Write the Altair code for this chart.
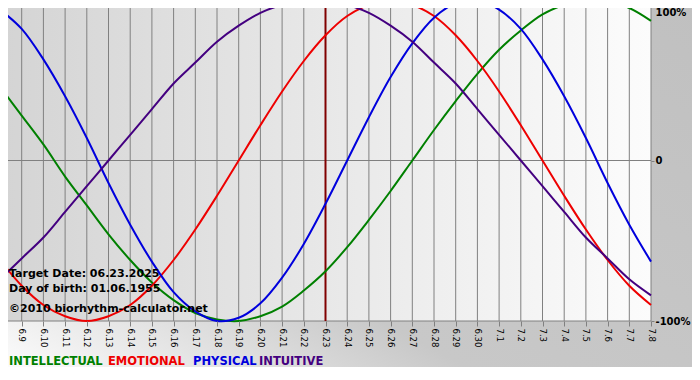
import altair as alt
import pandas as pd

# ---------------- data ----------------
dates = ["6.8", "6.9", "6.10", "6.11", "6.12", "6.13", "6.14", "6.15", "6.16", "6.17",
         "6.18", "6.19", "6.20", "6.21", "6.22", "6.23", "6.24", "6.25", "6.26", "6.27",
         "6.28", "6.29", "6.30", "7.1", "7.2", "7.3", "7.4", "7.5", "7.6", "7.7", "7.8"]

intellectual = [0.46, 0.28, 0.10, -0.10, -0.28, -0.46, -0.62, -0.76, -0.87, -0.95,
                -0.99, -1.00, -0.97, -0.91, -0.81, -0.69, -0.54, -0.37, -0.19, 0.00,
                0.19, 0.37, 0.54, 0.69, 0.81, 0.91, 0.97, 1.00, 0.99, 0.95, 0.87]

emotional = [-0.62, -0.78, -0.90, -0.97, -1.00, -0.97, -0.90, -0.78, -0.62, -0.43,
             -0.22, 0.00, 0.22, 0.43, 0.62, 0.78, 0.90, 0.97, 1.00, 0.97,
             0.90, 0.78, 0.62, 0.43, 0.22, 0.00, -0.22, -0.43, -0.62, -0.78, -0.90]

physical = [0.94, 0.82, 0.63, 0.40, 0.14, -0.14, -0.40, -0.63, -0.82, -0.94,
            -1.00, -0.98, -0.89, -0.73, -0.52, -0.27, 0.00, 0.27, 0.52, 0.73,
            0.89, 0.98, 1.00, 0.94, 0.82, 0.63, 0.40, 0.14, -0.14, -0.40, -0.63]

intuitive = [-0.74, -0.61, -0.48, -0.32, -0.16, 0.00, 0.16, 0.32, 0.48, 0.61,
             0.74, 0.84, 0.92, 0.97, 1.00, 1.00, 0.97, 0.92, 0.84, 0.74,
             0.61, 0.48, 0.32, 0.16, 0.00, -0.16, -0.32, -0.48, -0.61, -0.74, -0.84]

series_names = ["INTELLECTUAL", "EMOTIONAL", "PHYSICAL", "INTUITIVE"]
series_colors = ["#008000", "#ee0000", "#0000dd", "#440080"]
target_date = "6.23"
info_lines = ["Target Date: 06.23.2025", "Day of birth: 01.06.1955",
              "©2010 biorhythm-calculator.net"]
y_ticks = [-1, 0, 1]

# ---------------- build tables ----------------
W, H = 651, 321
FONT = "DejaVu Sans"

day_index = list(range(len(dates)))
series_values = [intellectual, emotional, physical, intuitive]
rows = []
for name, vals in zip(series_names, series_values):
    for i, d, v in zip(day_index, dates, vals):
        rows.append({"idx": i, "date": d, "value": v, "series": name})
df = pd.DataFrame(rows)
df_dates = pd.DataFrame({"idx": day_index, "date": dates})
df_h = pd.DataFrame({"value": y_ticks})
df_target = pd.DataFrame({"idx": [dates.index(target_date)]})
one = pd.DataFrame({"a": [0]})

label_array = "[" + ",".join("'" + d + "'" for d in dates) + "]"
xscale = alt.Scale(domain=[0, len(dates) - 1], nice=False, zero=False)
yscale = alt.Scale(domain=[-1, 1], nice=False, zero=False)

x_axis = alt.Axis(title=None, orient="bottom", values=day_index,
                  labelExpr=label_array + "[datum.value]",
                  labelAngle=90, labelFont=FONT, labelFontSize=8.5,
                  labelColor="#000000", labelPadding=2, domain=False,
                  ticks=True, tickColor="#808080", tickSize=5, grid=False,
                  labelOverlap=False, labelFlush=False, labelSeparation=0,
                  zindex=2)
y_axis = alt.Axis(title=None, orient="right", values=y_ticks,
                  labelExpr="datum.value == 1 ? '100%' : datum.value == 0 ? '0' : '-100%'",
                  labelFont=FONT, labelFontSize=10, labelFontWeight="bold",
                  labelColor="#000000", labelPadding=1, domain=False,
                  ticks=True, tickSize=3, tickColor="#808080", grid=False,
                  labelFlush=False, labelOverlap=False, zindex=2,
                  labelBaseline={"condition": {"test": "datum.value == 1", "value": "top"},
                                 "value": "middle"},
                  labelOffset={"condition": {"test": "datum.value == 1", "value": 7},
                               "value": 0})

# outer gradient background
outer = alt.Chart(one).mark_rect(
    color=alt.LinearGradient(
        gradient="linear", x1=0, y1=1, x2=1, y2=0,
        stops=[alt.GradientStop(offset=0, color="#ffffff"),
               alt.GradientStop(offset=0.35, color="#c8c8c8"),
               alt.GradientStop(offset=1, color="#c0c0c0")]
    )
).encode(x=alt.value(0), x2=alt.value(700), y=alt.value(0), y2=alt.value(380))

# plot area gradient
plotbg = alt.Chart(one).mark_rect(
    color=alt.LinearGradient(
        gradient="linear", x1=0, y1=0, x2=1, y2=0,
        stops=[alt.GradientStop(offset=0, color="#d4d4d4"),
               alt.GradientStop(offset=1, color="#fcfcfc")]
    )
).encode(x=alt.value(0), x2=alt.value(W), y=alt.value(0), y2=alt.value(H))

vgrid = alt.Chart(df_dates).mark_rule(color="#808080", strokeWidth=1).encode(
    x=alt.X("idx:Q", scale=xscale, axis=x_axis),
    y=alt.value(0), y2=alt.value(H),
)

hgrid = alt.Chart(df_h).mark_rule(color="#808080", strokeWidth=1).encode(
    y=alt.Y("value:Q", scale=yscale, axis=y_axis),
    x=alt.value(0), x2=alt.value(W),
)

target = alt.Chart(df_target).mark_rule(color="#800000", strokeWidth=2).encode(
    x=alt.X("idx:Q", scale=xscale, axis=x_axis),
    y=alt.value(0), y2=alt.value(H),
)

lines = alt.Chart(df).mark_line(strokeWidth=2, interpolate="catmull-rom").encode(
    x=alt.X("idx:Q", scale=xscale, axis=x_axis),
    y=alt.Y("value:Q", scale=yscale, axis=y_axis),
    color=alt.Color("series:N", scale=alt.Scale(domain=series_names, range=series_colors),
                    legend=None),
    detail="series:N",
)

info_df = pd.DataFrame({"text": info_lines, "ypos": [277, 292, 312]})
info = alt.Chart(info_df).mark_text(
    align="left", baseline="alphabetic", font=FONT, fontSize=11,
    fontWeight="bold", color="#000000"
).encode(x=alt.value(9), y=alt.Y("ypos:Q", scale=None), text="text:N")

legend_df = pd.DataFrame({"text": series_names, "xpos": [9, 108, 193, 259]})
legend = alt.Chart(legend_df).mark_text(
    align="left", baseline="alphabetic", font=FONT, fontSize=11.5, fontWeight="bold"
).encode(
    x=alt.X("xpos:Q", scale=None), y=alt.value(365), text="text:N",
    color=alt.Color("text:N", scale=alt.Scale(domain=series_names, range=series_colors),
                    legend=None),
)

chart = alt.layer(outer, plotbg, vgrid, hgrid, target, lines, info, legend).resolve_scale(
    color="independent"
).properties(
    width=W, height=H,
    autosize=alt.AutoSizeParams(type="none"),
    padding={"left": -8, "top": -8, "right": 41, "bottom": 46},
    background="#c0c0c0",
).configure_view(stroke=None).configure_axis(labelOverlap=False)

chart.save("out.html", embed_options={"renderer": "svg", "actions": False})
